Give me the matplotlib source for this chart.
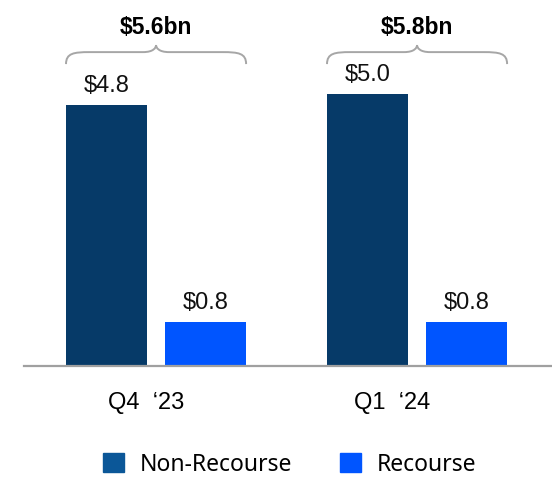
import matplotlib.pyplot as plt
from matplotlib.patches import Patch, PathPatch
from matplotlib.path import Path
import numpy as np

# data
quarters = ['Q4  \u201823', 'Q1  \u201824']
non_recourse = [4.8, 5.0]
recourse = [0.8, 0.8]
totals = [5.6, 5.8]

c_nr = '#063a68'
c_nr_legend = '#0b5798'
c_r = '#0055ff'

fig = plt.figure(figsize=(5.52, 4.78), dpi=100)
ax = fig.add_axes([24 / 552, 112 / 478, 1 - 24 / 552, 366 / 478])

x = np.arange(len(quarters))
off = 0.19
w = 0.31

b1 = ax.bar(x - off, non_recourse, w, color=c_nr)
b2 = ax.bar(x + off, recourse, w, color=c_r)

for bars, vals in ((b1, non_recourse), (b2, recourse)):
    for b, v in zip(bars, vals):
        ax.annotate(f'${v:.1f}', (b.get_x() + b.get_width() / 2, v),
                    xytext=(0, 6), textcoords='offset points',
                    ha='center', va='bottom', fontsize=17,
                    family='Liberation Sans', color='#111111')

# curly braces + totals above each group
for xi, t in zip(x, totals):
    l, r = xi - 0.345, xi + 0.345
    y0, y1, y2 = 5.55, 5.77, 5.90
    verts = [(l, y0), (l, y1 - 0.02), (l + 0.03, y1), (l + 0.09, y1),
             (xi - 0.05, y1),
             (xi - 0.01, y1), (xi, y2 - 0.05), (xi, y2),
             (xi, y2 - 0.05), (xi + 0.01, y1), (xi + 0.05, y1),
             (r - 0.09, y1),
             (r - 0.03, y1), (r, y1 - 0.02), (r, y0)]
    codes = [Path.MOVETO, Path.CURVE4, Path.CURVE4, Path.CURVE4,
             Path.LINETO,
             Path.CURVE4, Path.CURVE4, Path.CURVE4,
             Path.CURVE4, Path.CURVE4, Path.CURVE4,
             Path.LINETO,
             Path.CURVE4, Path.CURVE4, Path.CURVE4]
    ax.add_patch(PathPatch(Path(verts, codes), facecolor='none',
                           edgecolor='#a6a6a6', lw=1.4, clip_on=False))
    ax.text(xi, 6.23, f'${t:.1f}bn', ha='center', va='center',
            fontsize=16.5, fontweight='bold', family='Liberation Sans')

ax.set_xlim(-0.506, 1.517)
ax.set_ylim(0, 366 / 54.4)
# category labels sit a little left of the group centres in the original
ax.set_xticks(x + np.array([-0.04, -0.096]))
ax.set_xticklabels(quarters, fontsize=17, family='Liberation Sans')
ax.tick_params(axis='x', length=0, pad=19)
ax.set_yticks([])
for s in ('top', 'right', 'left'):
    ax.spines[s].set_visible(False)
ax.spines['bottom'].set_color('#a0a0a0')
ax.spines['bottom'].set_linewidth(1.6)

handles = [Patch(color=c_nr_legend, label='Non-Recourse'),
           Patch(color=c_r, label='Recourse')]
fig.legend(handles=handles, loc='center', bbox_to_anchor=(0.525, 0.028),
           ncol=2, frameon=False, handlelength=0.9, handleheight=0.9,
           handletextpad=0.7, columnspacing=2.1,
           prop={'family': 'Noto Sans', 'size': 16.5})

fig.savefig('out.png', dpi=100)
